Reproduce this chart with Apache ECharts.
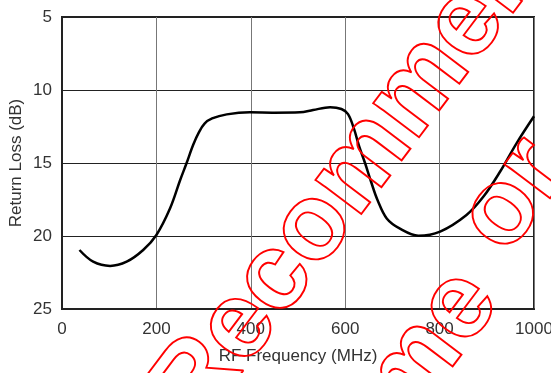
<!DOCTYPE html>
<html>
<head>
<meta charset="utf-8">
<script src="https://cdn.jsdelivr.net/npm/echarts@6/dist/echarts.min.js"></script>
<style>
  html, body { margin: 0; padding: 0; background: #fff; }
  #main { width: 551px; height: 373px; }
</style>
</head>
<body>
<div id="main"></div>
<script>
// values
const freqMHz = [37, 66, 102, 137, 172, 200, 229, 250, 264, 278, 290, 302, 318, 349, 398, 450, 504, 532, 568, 592, 606, 618, 630, 642, 655, 668, 688, 716, 755, 801, 857, 893, 928, 963, 1000];
const returnLoss = [20.96, 21.76, 22.05, 21.76, 20.96, 19.93, 18.1, 16.2, 15.0, 13.75, 12.9, 12.3, 11.95, 11.67, 11.53, 11.55, 11.53, 11.37, 11.18, 11.3, 11.65, 12.6, 13.9, 15.0, 16.3, 17.5, 18.8, 19.5, 19.98, 19.7, 18.56, 17.3, 15.6, 13.65, 11.8];
const xTicks = [0, 200, 400, 600, 800, 1000];

const fontFam = '"Liberation Sans", Arial, sans-serif';
const markFont = 'bold 108px "Liberation Sans", Arial, sans-serif';
const angle = 53 * Math.PI / 180;

const chart = echarts.init(document.getElementById('main'), null, { renderer: 'canvas' });

const mark = (text, x, y) => ({
  type: 'text', x: x, y: y, rotation: angle, z: 100, silent: true,
  style: { text: text, font: markFont, fill: 'none', stroke: '#ff0000', lineWidth: 1.9, align: 'left', verticalAlign: 'middle' }
});

chart.setOption({
  animation: false,
  grid: {
    left: 62, right: 17, top: 17, bottom: 64,
    containLabel: false, outerBoundsMode: 'none',
    show: true, borderColor: '#222', borderWidth: 2
  },
  xAxis: {
    type: 'value', min: xTicks[0], max: xTicks[xTicks.length - 1], interval: 200,
    name: 'RF Frequency (MHz)', nameLocation: 'middle', nameGap: 39, nameMoveOverlap: false,
    nameTextStyle: { fontFamily: fontFam, fontSize: 17, color: '#333' },
    axisLine: { show: true, lineStyle: { color: '#222', width: 2 } },
    axisTick: { show: false },
    axisLabel: { margin: 12, fontFamily: fontFam, fontSize: 17, color: '#333', formatter: v => String(v) },
    splitLine: { show: true, lineStyle: { color: '#777', width: 1 } }
  },
  yAxis: {
    type: 'value', min: 5, max: 25, interval: 5, inverse: true,
    name: 'Return Loss (dB)', nameLocation: 'middle', nameGap: 37, nameMoveOverlap: false,
    nameTextStyle: { fontFamily: fontFam, fontSize: 17, color: '#333' },
    axisLine: { show: true, lineStyle: { color: '#222', width: 2 } },
    axisTick: { show: false },
    axisLabel: { margin: 10, fontFamily: fontFam, fontSize: 17, color: '#333' },
    splitLine: { show: true, lineStyle: { color: '#222', width: 1 } }
  },
  series: [{
    type: 'line',
    data: freqMHz.map((f, i) => [f, returnLoss[i]]),
    smooth: 0.35,
    symbol: 'none',
    lineStyle: { color: '#000', width: 2.5 }
  }],
  graphic: [
    mark('Recommended', 174, 413),
    mark('me', 384, 408),
    mark('or', 482, 239)
  ]
});
</script>
</body>
</html>
